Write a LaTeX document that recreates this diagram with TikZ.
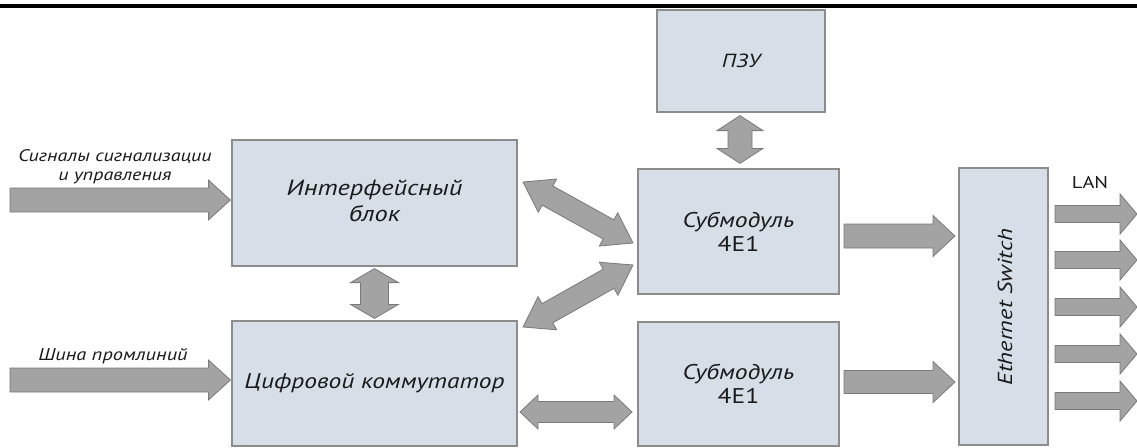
\documentclass[tikz,border=0pt]{standalone}
\usepackage{fontspec}
\setmainfont{PT Sans}[FakeStretch=1.2]
\usetikzlibrary{calc}
\definecolor{boxfill}{HTML}{D6DFE8}
\definecolor{boxline}{HTML}{8C8C8C}
\definecolor{arrfill}{HTML}{A3A3A3}
\definecolor{arrline}{HTML}{7A7A7A}
\definecolor{txt}{HTML}{1A1A1A}
\tikzset{
  box/.style={draw=boxline, fill=boxfill, line width=1.2pt, inner sep=0pt, align=center, text=txt},
  arr/.style={fill=arrfill, draw=arrline, line width=0.8pt, line join=miter},
  lbl/.style={align=center, text=txt, inner sep=0pt}
}
% single block arrow: tail, tip, shaft width, head width, head length
\newcommand\sglarr[5]{%
  \filldraw[arr] let \p1=#1, \p2=#2, \n1={atan2(\y2-\y1,\x2-\x1)}, \n2={veclen(\x2-\x1,\y2-\y1)} in
  ($(\p1)+(\n1+90:#3/2)$) -- ($(\p1)+(\n1:\n2-#5)+(\n1+90:#3/2)$) -- ($(\p1)+(\n1:\n2-#5)+(\n1+90:#4/2)$)
  -- (\p2) -- ($(\p1)+(\n1:\n2-#5)+(\n1-90:#4/2)$) -- ($(\p1)+(\n1:\n2-#5)+(\n1-90:#3/2)$)
  -- ($(\p1)+(\n1-90:#3/2)$) -- cycle;}
% double block arrow: tip1, tip2, shaft width, head width, head length
\newcommand\dblarr[5]{%
  \filldraw[arr] let \p1=#1, \p2=#2, \n1={atan2(\y2-\y1,\x2-\x1)}, \n2={veclen(\x2-\x1,\y2-\y1)} in
  (\p1) -- ($(\p1)+(\n1:#5)+(\n1+90:#4/2)$) -- ($(\p1)+(\n1:#5)+(\n1+90:#3/2)$)
  -- ($(\p1)+(\n1:\n2-#5)+(\n1+90:#3/2)$) -- ($(\p1)+(\n1:\n2-#5)+(\n1+90:#4/2)$)
  -- (\p2) -- ($(\p1)+(\n1:\n2-#5)+(\n1-90:#4/2)$) -- ($(\p1)+(\n1:\n2-#5)+(\n1-90:#3/2)$)
  -- ($(\p1)+(\n1:#5)+(\n1-90:#3/2)$) -- ($(\p1)+(\n1:#5)+(\n1-90:#4/2)$) -- cycle;}
\begin{document}
\begin{tikzpicture}[x=1pt, y=-1pt]
\useasboundingbox[fill=white] (0,0) rectangle (1137,447);
\draw[line width=4pt] (0,6) -- (1137,6);

% boxes
\node[box, minimum width=168pt, minimum height=102pt, font=\itshape\fontsize{19}{22}\selectfont] (pzu) at (741,61) {ПЗУ};
\node[box, minimum width=285pt, minimum height=126pt, font=\itshape\fontsize{22}{27}\selectfont] (intf) at (374.5,203) {\raisebox{-3pt}{\begin{tabular}{@{}c@{}}Интерфейсный\\[-1pt]блок\end{tabular}}};
\node[box, minimum width=285pt, minimum height=125pt, font=\itshape\fontsize{21.2}{27}\selectfont] (comm) at (374.5,383.5) {Цифровой коммутатор};
\node[box, minimum width=201pt, minimum height=125pt, font=\itshape\fontsize{21.3}{24}\selectfont] (sub1) at (738.5,231.5) {Субмодуль\\{\upshape 4E1}};
\node[box, minimum width=201pt, minimum height=124pt, font=\itshape\fontsize{21.3}{24}\selectfont] (sub2) at (738.5,384) {Субмодуль\\{\upshape 4E1}};
\node[box, minimum width=89pt, minimum height=277pt] (eth) at (1003.5,306.5) {};
\node[lbl, rotate=90, font=\itshape\fontsize{20.3}{24}\selectfont] (ethtxt) at (1005,307) {Ethernet Switch};

% labels
\node[lbl, font=\itshape\fontsize{16.7}{19.5}\selectfont] (sigl) at (115,167) {Сигналы сигнализации\\и управления};
\node[lbl, font=\itshape\fontsize{17}{20}\selectfont] (busl) at (113,356) {Шина промлиний};
\node[lbl, font=\fontsize{17}{20}\selectfont] (lanl) at (1090,183) {LAN};

% free ends
\coordinate (in1) at (10,200);
\coordinate (in2) at (10,380);
\foreach \i/\y in {1/214,2/260,3/307,4/354,5/401}{\coordinate (lan\i) at (1137,\y);}

% arrows
\sglarr{(in1)}{($(intf.west)+(-1,-3)$)}{24pt}{40pt}{22pt}
\sglarr{(in2)}{($(comm.west)+(-1,-3.5)$)}{24pt}{40pt}{22pt}
\dblarr{($(intf.south)+(0,2)$)}{($(comm.north)+(0,-2)$)}{28pt}{48pt}{14pt}
\dblarr{($(pzu.south)+(-1,3)$)}{($(sub1.north)+(1.5,-5)$)}{24pt}{46pt}{15pt}
\dblarr{($(intf.east)+(5.4,-21)$)}{($(sub1.west)+(-4.4,11.5)$)}{22pt}{38pt}{28pt}
\dblarr{($(sub1.west)+(-4.4,33.5)$)}{($(comm.north east)+(5.4,6.6)$)}{22pt}{38pt}{28pt}
\dblarr{($(comm.east)+(2.4,28.5)$)}{($(sub2.west)+(-5.4,28)$)}{21pt}{34pt}{18pt}
\sglarr{($(sub1.east)+(4.4,4.5)$)}{($(eth.west)+(-3.4,-70.5)$)}{24pt}{41pt}{22pt}
\sglarr{($(sub2.east)+(4.4,-2)$)}{($(eth.west)+(-3.4,75.5)$)}{23pt}{41pt}{22pt}
\foreach \i/\y in {1/214,2/260,3/307,4/354,5/401}{
  \sglarr{($(eth.east|-lan\i)+(6.4,0)$)}{(lan\i)}{17pt}{40pt}{17pt}
}
\end{tikzpicture}
\end{document}
